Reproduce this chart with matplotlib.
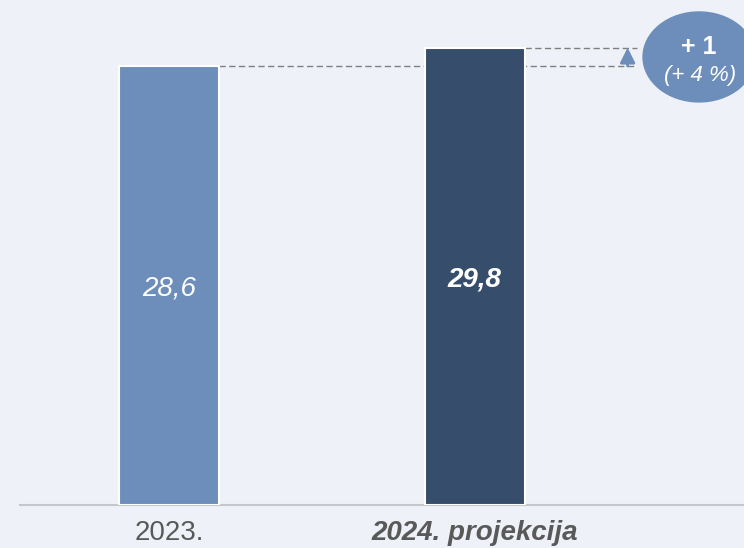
import matplotlib
matplotlib.use("Agg")
import matplotlib.pyplot as plt
from matplotlib.patches import Ellipse

plt.rcParams['font.family'] = ['Liberation Sans', 'DejaVu Sans']

# data
categories = ['2023.', '2024. projekcija']
values = [28.6, 29.8]
value_labels = ['28,6', '29,8']
diff_label = '+ 1'
pct_label = '(+ 4 %)'

bg = '#eef2f8'
bar_colors = ['#6d8eba', '#374d6c']

fig = plt.figure(figsize=(7.44, 5.48), dpi=100, facecolor=bg)
W, H = 744, 548
ax = fig.add_axes([20 / W, (H - 505) / H, 724 / W, 505 / H])
ax.set_facecolor(bg)

x = list(range(len(categories)))
bw = 0.327
bars = ax.bar(x, values, width=bw, color=bar_colors, edgecolor='white', linewidth=1.5, zorder=3)

ax.set_xlim(-0.489, 1.881)
ax.set_ylim(0, 32.9)

for sp in ['top', 'right', 'left']:
    ax.spines[sp].set_visible(False)
ax.spines['bottom'].set_color('#c3c6cb')
ax.spines['bottom'].set_linewidth(1.5)
ax.set_yticks([])
ax.set_xticks(x)
ax.set_xticklabels(categories, fontsize=20, color='#595959')
ax.tick_params(axis='x', length=0, pad=11)
lbls = ax.get_xticklabels()
lbls[1].set_fontweight('bold')
lbls[1].set_fontstyle('italic')

# values inside bars
ax.text(x[0], values[0] / 2, value_labels[0], ha='center', va='center_baseline',
        fontsize=20, color='white', style='italic', zorder=4)
ax.text(x[1], values[1] / 2, value_labels[1], ha='center', va='center_baseline',
        fontsize=20, color='white', style='italic', fontweight='bold', zorder=4)

# dashed reference lines
x_end = 1.53
ax.plot([x[0] + bw / 2, x_end], [values[0], values[0]], ls=(0, (4.5, 2.5)), color='#7f7f7f', lw=1, zorder=2)
ax.plot([x[1] + bw / 2, x_end], [values[1], values[1]], ls=(0, (4.5, 2.5)), color='#7f7f7f', lw=1, zorder=2)

# up arrow
ax.annotate('', xy=(1.50, values[1]), xytext=(1.50, values[0]),
            arrowprops=dict(arrowstyle='-|>,head_length=0.9,head_width=0.45',
                            color='#6d8eba', lw=2, shrinkA=0, shrinkB=0), zorder=5)

# change bubble
ell = Ellipse((1.734, 29.19), 0.367, 5.86, color='#6d8eba', clip_on=False, zorder=5)
ax.add_patch(ell)
ax.text(1.734, 30.03, diff_label, ha='center', va='center_baseline', fontsize=18,
        fontweight='bold', color='white', zorder=6, clip_on=False)
ax.text(1.737, 27.97, pct_label, ha='center', va='center', fontsize=16,
        style='italic', color='white', zorder=6, clip_on=False)

fig.savefig('out.png', dpi=100, facecolor=bg)
